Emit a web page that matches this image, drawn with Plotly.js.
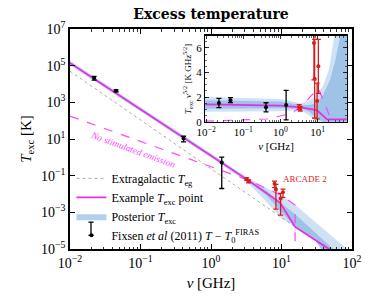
<!DOCTYPE html>
<html>
<head>
<meta charset="utf-8">
<script src="https://cdn.plot.ly/plotly-3.0.1.min.js"></script>
<style>html,body{margin:0;padding:0;background:#fff;}#chart{width:374px;height:304px;}</style>
</head>
<body>
<div id="chart"></div>
<script>
// ---------------- Main panel data (nu in GHz, T in K) ----------------
const egNu = [0.01, 100];
const egT  = [5.0e4, 1.15e-6];

const exNu = [0.01, 0.1, 1, 3.3, 9.5, 15.6, 100];
const exT  = [1.4e5, 4.3e2, 1.3, 5.9e-2, 3.4e-3, 1.6e-4, 1.54e-6];

const nsNu = [0.01, 3.3, 10.5, 15.6, 15.6];
const nsT  = [178, 0.059, 7.6e-3, 2.5e-3, 1e-6];

const lbNu    = [0.01, 0.1, 1, 3.3, 6, 9.5, 15.6, 30, 47, 85];
const lbUpper = [1.9e5, 580, 1.75, 0.08, 0.022, 9e-3, 2.5e-3, 3e-4, 6.9e-5, 1e-5];
const lbLower = [1.04e5, 320, 0.96, 0.043, 4e-3, 5.5e-4, 1.5e-4, 3.1e-5, 1e-5, 1e-6];

const dbNu    = [0.01, 0.1, 1, 3.3, 6, 9.5, 15.6, 30, 54];
const dbUpper = [1.6e5, 495, 1.5, 0.068, 0.016, 3.5e-3, 7.9e-4, 7.9e-5, 1e-5];
const dbLower = [1.2e5, 375, 1.13, 0.051, 9e-3, 1.26e-3, 1.6e-4, 3.1e-5, 1e-6];

const fxNu  = [0.022, 0.045, 0.408, 1.42];
const fxT   = [2.12e4, 4.3e3, 10.5, 0.52];
const fxErr = [5.1e3, 5.2e2, 3.6, 0.5];

const arNu  = [3.20, 3.41, 7.97, 8.33, 9.72, 10.49];
const arT   = [0.066, 0.049, 0.036, 0.0175, 0.0057, 0.0126];
const arErr = [0.010, 0.009, 0.014, 0.016, 0.005, 0.006];

// ---------------- Inset data (T * nu^{5/2}) ----------------
const iexNu = [0.0093, 0.1, 1, 3.5, 9.5, 18, 70];
const iexV  = [1.4, 1.37, 1.3, 1.17, 0.95, 0.19, 0.19];

const insNu = [0.0093, 0.43, 1.8, 3.7, 6.2, 10.5, 24];
const insV  = [0.04, 0.22, 0.65, 1.17, 2.0, 2.7, 0.05];

const ilNu    = [0.0093, 0.1, 1, 3.5, 6, 9, 14, 20, 29, 70];
const ilUpper = [2.0, 1.95, 1.85, 1.5, 1.7, 2.1, 2.9, 4.2, 7.1, 7.1];
const ilLower = [0.8, 0.82, 0.85, 0.95, 0.5, 0, 0, 0, 0, 0];

const idNu    = [0.0093, 0.1, 1, 3.5, 6, 9, 14, 21.6, 30, 42, 70];
const idUpper = [1.75, 1.72, 1.65, 1.35, 1.35, 1.5, 2.2, 3.4, 5.0, 7.1, 7.1];
const idLower = [1.05, 1.07, 1.1, 1.05, 0.8, 0.3, 0, 0, 0, 0, 0];

const fxV    = [1.52, 1.75, 1.17, 1.35];
const fxVErr = [0.37, 0.2, 0.37, 1.2];

const arV    = [1.2, 1.05, 6.4, 3.5, 1.68, 4.5];
const arVErr = [0.18, 0.18, 3.0, 3.2, 1.45, 2.2];

// tick labels
const mainXTicks = [0.01, 0.1, 1, 10, 100];
const mainXText  = ['10<sup>−2</sup>', '10<sup>−1</sup>', '10<sup>0</sup>', '10<sup>1</sup>', '10<sup>2</sup>'];
const mainYTicks = [1e-5, 1e-3, 1e-1, 1e1, 1e3, 1e5, 1e7];
const mainYText  = ['10<sup>−5</sup>', '10<sup>−3</sup>', '10<sup>−1</sup>', '10<sup>1</sup>', '10<sup>3</sup>', '10<sup>5</sup>', '10<sup>7</sup>'];
const insXTicks = [0.01, 0.1, 1, 10];
const insXText  = ['10<sup>−2</sup>', '10<sup>−1</sup>', '10<sup>0</sup>', '10<sup>1</sup>'];
const insYTicks = [0, 2, 4, 6];

// ---------------- helpers ----------------
function polyX(nu){ return nu.concat(nu.slice().reverse()); }
function polyY(lo, up){ return up.concat(lo.slice().reverse()); }
function minorLog(a, b){ const out=[]; for(let e=a;e<b;e++){ for(let m=2;m<=9;m++){ out.push(m*Math.pow(10,e)); } } return out; }

const SERIF = 'Liberation Serif, DejaVu Serif, serif';
const LIGHT = 'rgb(207,225,243)';
const DARK  = 'rgb(158,195,230)';
const MAG   = 'rgb(232,45,232)';
const MAGD  = 'rgb(255,70,255)';
const RED   = 'rgb(214,30,30)';

const traces = [
  // main panel
  {x: polyX(lbNu), y: polyY(lbLower, lbUpper), xaxis:'x', yaxis:'y', type:'scatter', mode:'lines', fill:'toself',
   fillcolor: LIGHT, line:{width:0}, hoverinfo:'skip', showlegend:false},
  {x: polyX(dbNu), y: polyY(dbLower, dbUpper), xaxis:'x', yaxis:'y', type:'scatter', mode:'lines', fill:'toself',
   fillcolor: DARK, line:{width:0}, hoverinfo:'skip', showlegend:false},
  {x: egNu, y: egT, xaxis:'x', yaxis:'y', type:'scatter', mode:'lines', line:{color:'rgb(150,150,150)', width:0.8, dash:'dot'},
   name:'Extragalactic <i>T</i><sub>eg</sub>', legendrank:1},
  {x: nsNu, y: nsT, xaxis:'x', yaxis:'y', type:'scatter', mode:'lines', line:{color:MAGD, width:1.2, dash:'dash'}, showlegend:false},
  {x: exNu, y: exT, xaxis:'x', yaxis:'y', type:'scatter', mode:'lines', line:{color:MAG, width:1.8},
   name:'Example <i>T</i><sub>exc</sub> point', legendrank:2},
  // legend-only swatch for the posterior band
  {x:[null], y:[null], xaxis:'x', yaxis:'y', type:'scatter', mode:'lines', fill:'toself', fillcolor:'rgb(178,208,236)',
   line:{width:0}, name:'Posterior <i>T</i><sub>exc</sub>', legendrank:3},
  {x: arNu, y: arT, xaxis:'x', yaxis:'y', type:'scatter', mode:'markers', marker:{color:RED, size:4},
   error_y:{type:'data', array: arErr, color:RED, thickness:1.3, width:2.5}, showlegend:false},
  {x: fxNu, y: fxT, xaxis:'x', yaxis:'y', type:'scatter', mode:'markers', marker:{color:'black', size:4},
   error_y:{type:'data', array: fxErr, color:'black', thickness:1.3, width:2.5},
   name:'Fixsen <i>et al</i> (2011) <i>T</i> − <i>T</i><sub>0</sub><sup>FIRAS</sup>', legendrank:4},
  // inset
  {x: polyX(ilNu), y: polyY(ilLower, ilUpper), xaxis:'x2', yaxis:'y2', type:'scatter', mode:'lines', fill:'toself',
   fillcolor: LIGHT, line:{width:0}, hoverinfo:'skip', showlegend:false},
  {x: polyX(idNu), y: polyY(idLower, idUpper), xaxis:'x2', yaxis:'y2', type:'scatter', mode:'lines', fill:'toself',
   fillcolor: DARK, line:{width:0}, hoverinfo:'skip', showlegend:false},
  {x: insNu, y: insV, xaxis:'x2', yaxis:'y2', type:'scatter', mode:'lines', line:{color:MAGD, width:1.2, dash:'dash'}, showlegend:false},
  {x: iexNu, y: iexV, xaxis:'x2', yaxis:'y2', type:'scatter', mode:'lines', line:{color:MAG, width:1.8}, showlegend:false},
  {x: arNu, y: arV, xaxis:'x2', yaxis:'y2', type:'scatter', mode:'markers', marker:{color:RED, size:4},
   error_y:{type:'data', array: arVErr, color:RED, thickness:1.3, width:2.5}, showlegend:false},
  {x: fxNu, y: fxV, xaxis:'x2', yaxis:'y2', type:'scatter', mode:'markers', marker:{color:'black', size:4},
   error_y:{type:'data', array: fxVErr, color:'black', thickness:1.3, width:2.5}, showlegend:false}
];

const axisCommon = {showline:true, linecolor:'black', mirror:'allticks', ticks:'inside', tickcolor:'black',
  showgrid:false, zeroline:false, automargin:false};

// error-bar glyph drawn beside the Fixsen legend entry (paper coords)
const legBarX = 0.0745, legBarY0 = 0.062, legBarY1 = 0.122, legCap = 0.009;

const layout = {
  width:374, height:304,
  margin:{l:70, r:22, t:29, b:55, pad:0},
  paper_bgcolor:'white', plot_bgcolor:'white',
  font:{family:SERIF, color:'black', size:12},
  title:{text:'<b>Excess temperature</b>', x:0.5, xref:'paper', xanchor:'center', y:0.954, yanchor:'middle', font:{family:'DejaVu Serif, serif', size:14}},
  showlegend:true,
  legend:{x:0.005, y:0.387, xanchor:'left', yanchor:'top', bgcolor:'rgba(0,0,0,0)', font:{family:SERIF, size:12}, tracegroupgap:0, itemwidth:30},
  xaxis: Object.assign({}, axisCommon, {type:'log', range:[-2, 2], domain:[0,1], anchor:'y', linewidth:1.8,
    tickvals: mainXTicks, ticktext: mainXText, ticklen:5, tickwidth:1, tickfont:{size:14},
    minor:{ticks:'inside', ticklen:2.5, tickwidth:0.8, tickcolor:'black', tickvals: minorLog(-2, 2)},
    title:{text:'<i>ν</i> [GHz]', font:{size:15}, standoff:8}}),
  yaxis: Object.assign({}, axisCommon, {type:'log', range:[-5, 7], domain:[0,1], anchor:'x', linewidth:1.8,
    tickvals: mainYTicks, ticktext: mainYText, ticklen:5, tickwidth:1, tickfont:{size:14},
    title:{text:'<i>T</i><sub>exc</sub> [K]', font:{size:15}, standoff:6}}),
  xaxis2: Object.assign({}, axisCommon, {type:'log', range:[-2.03, 1.79], domain:[0.479, 0.982], anchor:'y2', linewidth:1.2,
    tickvals: insXTicks, ticktext: insXText, ticklen:3.5, tickwidth:0.8, tickfont:{size:11},
    minor:{ticks:'inside', ticklen:2, tickwidth:0.6, tickcolor:'black', tickvals: minorLog(-3, 2)},
    title:{text:'<i>ν</i> [GHz]', font:{size:11}, standoff:4}}),
  yaxis2: Object.assign({}, axisCommon, {range:[-0.03, 7.0], domain:[0.577, 0.970], anchor:'x2', linewidth:1.2,
    tickvals: insYTicks, ticktext: insYTicks.map(String), ticklen:3.5, tickwidth:0.8, tickfont:{size:11},
    minor:{ticks:'inside', ticklen:2, tickwidth:0.6, tickcolor:'black', dtick:0.5},
    title:{text:'<i>T</i><sub>exc</sub> <i>ν</i><sup>5/2</sup> [K GHz<sup>5/2</sup>]', font:{size:9}, standoff:3}}),
  shapes:[
    {type:'line', xref:'paper', yref:'paper', x0:legBarX, x1:legBarX, y0:legBarY0, y1:legBarY1, line:{color:'black', width:1.3}},
    {type:'line', xref:'paper', yref:'paper', x0:legBarX-legCap, x1:legBarX+legCap, y0:legBarY0, y1:legBarY0, line:{color:'black', width:1.3}},
    {type:'line', xref:'paper', yref:'paper', x0:legBarX-legCap, x1:legBarX+legCap, y0:legBarY1, y1:legBarY1, line:{color:'black', width:1.3}}
  ],
  annotations:[
    {text:'<i>No stimulated emission</i>', xref:'x', yref:'y', x:-1.10, y:0.40, showarrow:false,
     textangle:20, font:{family:SERIF, size:9.5, color:MAGD}},
    {text:'ARCADE 2', xref:'x', yref:'y', x:1.336, y:-1.19, showarrow:false,
     font:{family:SERIF, size:9, color:RED}}
  ]
};

Plotly.newPlot('chart', traces, layout, {displayModeBar:false, staticPlot:true});
</script>
</body>
</html>
